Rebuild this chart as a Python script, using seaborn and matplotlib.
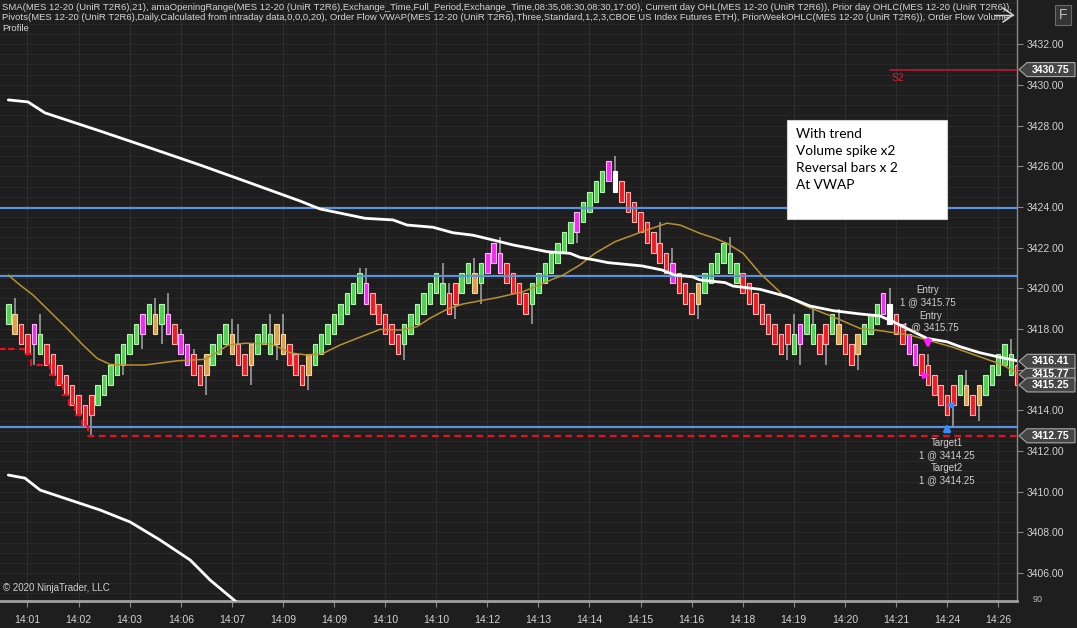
import matplotlib
matplotlib.use("Agg")
import matplotlib.pyplot as plt
import matplotlib.transforms as mtransforms
from matplotlib.patches import Polygon, Rectangle
import numpy as np
import pandas as pd
import seaborn as sns

# UniRenko T2R6 bars (one entry per bar)
opens = [
    3418.25, 3418.75, 3418.25, 3417.75, 3417.25, 3417.75, 3417.25, 3416.75, 3416.25, 3415.75,
    3415.25, 3414.75, 3414.25, 3413.75, 3414.25, 3414.75, 3415.25, 3415.75, 3416.25, 3416.75,
    3417.25, 3417.75, 3418.25, 3418.75, 3418.25, 3418.75, 3418.25, 3417.75, 3417.25, 3416.75,
    3416.25, 3415.75, 3416.25, 3416.75, 3417.25, 3417.75, 3417.25, 3416.75, 3416.25, 3416.75,
    3417.25, 3417.75, 3417.25, 3417.75, 3417.25, 3416.75, 3416.25, 3415.75, 3416.25, 3416.75,
    3417.25, 3417.75, 3418.25, 3418.75, 3419.25, 3419.75, 3420.25, 3419.75, 3419.25, 3418.75,
    3418.25, 3417.75, 3417.25, 3417.75, 3418.25, 3418.75, 3419.25, 3419.75, 3420.25, 3419.75,
    3419.25, 3419.75, 3420.25, 3420.75, 3420.25, 3420.75, 3421.25, 3421.75, 3421.25, 3420.75,
    3420.25, 3419.75, 3419.25, 3419.75, 3420.25, 3420.75, 3421.25, 3421.75, 3422.25, 3422.75,
    3423.25, 3423.75, 3424.25, 3424.75, 3425.25, 3425.75, 3425.25, 3424.75, 3424.25, 3423.75,
    3423.25, 3422.75, 3422.25, 3421.75, 3421.25, 3420.75, 3420.25, 3419.75, 3419.25, 3419.75,
    3420.25, 3420.75, 3421.25, 3421.75, 3421.25, 3420.75, 3420.25, 3419.75, 3419.25, 3418.75,
    3418.25, 3417.75, 3417.25, 3417.75, 3417.25, 3417.75, 3418.25, 3417.75, 3417.25, 3417.75,
    3418.25, 3417.75, 3417.25, 3416.75, 3417.25, 3417.75, 3418.25, 3418.75, 3419.25, 3418.75,
    3418.25, 3417.75, 3417.25, 3416.75, 3416.25, 3415.75, 3415.25, 3414.75, 3414.25, 3414.75,
    3415.25, 3414.75, 3414.25, 3414.75, 3415.25, 3415.75, 3416.25, 3416.75, 3416.25,
]
closes = [
    3419.25, 3417.75, 3417.25, 3416.75, 3418.25, 3416.75, 3416.25, 3415.75, 3415.25, 3414.75,
    3414.25, 3413.75, 3413.25, 3414.75, 3415.25, 3415.75, 3416.25, 3416.75, 3417.25, 3417.75,
    3418.25, 3418.75, 3419.25, 3417.75, 3419.25, 3417.75, 3417.25, 3416.75, 3416.25, 3415.75,
    3415.25, 3416.75, 3417.25, 3417.75, 3418.25, 3416.75, 3416.25, 3415.75, 3417.25, 3417.75,
    3418.25, 3416.75, 3418.25, 3416.75, 3416.25, 3415.75, 3415.25, 3416.75, 3417.25, 3417.75,
    3418.25, 3418.75, 3419.25, 3419.75, 3420.25, 3420.75, 3419.25, 3418.75, 3418.25, 3417.75,
    3417.25, 3416.75, 3418.25, 3418.75, 3419.25, 3419.75, 3420.25, 3420.75, 3419.25, 3418.75,
    3420.25, 3420.75, 3421.25, 3419.75, 3421.25, 3421.75, 3422.25, 3420.75, 3420.25, 3419.75,
    3419.25, 3418.75, 3420.25, 3420.75, 3421.25, 3421.75, 3422.25, 3422.75, 3423.25, 3423.75,
    3424.25, 3424.75, 3425.25, 3425.75, 3426.25, 3424.75, 3424.25, 3423.75, 3423.25, 3422.75,
    3422.25, 3421.75, 3421.25, 3420.75, 3420.25, 3419.75, 3419.25, 3418.75, 3420.25, 3420.75,
    3421.25, 3421.75, 3422.25, 3420.75, 3420.25, 3419.75, 3419.25, 3418.75, 3418.25, 3417.75,
    3417.25, 3416.75, 3418.25, 3416.75, 3418.25, 3418.75, 3417.25, 3416.75, 3418.25, 3418.75,
    3417.25, 3416.75, 3416.25, 3417.75, 3418.25, 3418.75, 3419.25, 3419.75, 3418.25, 3417.75,
    3417.25, 3416.75, 3416.25, 3415.75, 3415.25, 3414.75, 3414.25, 3413.75, 3415.25, 3415.75,
    3414.25, 3413.75, 3415.25, 3415.75, 3416.25, 3416.75, 3417.25, 3415.75, 3415.25,
]
# G green, R red, O orange, M magenta, W white
bar_colors = ("GORRMGRRRR" "RRRRGGGGGG" "GMGOGMRMMR" "ROGGGORROG" "GGOORRROGG"
              "GGGGGGMRRR" "RRGGGGGGGR" "RGGOGMMMRR" "RRGGGGGGGM" "GGGGMWRRRR"
              "RRRRMRRROG" "GGGGGRRRRR" "RRRGMGGRRG" "ORROGGGMWR" "RMMRRRRRRG"
              "OROGGGGGR")
# wicks: bar number and the price the wick reaches
wick_bars = [1, 4, 5, 13, 18, 21, 23, 24, 25, 27, 29, 31, 35, 36, 38, 41, 42, 43, 47, 55,
             56, 62, 68, 69, 70, 73, 74, 77, 82, 89, 95, 102, 104, 108, 113, 122, 123, 124,
             126, 128, 130, 133, 138, 144, 148, 150, 152, 157]
wick_ends = [3419.5, 3416.25, 3418.75, 3412.75, 3415.75, 3417.0, 3419.5, 3417.25, 3419.75,
             3418.0, 3417.0, 3414.75, 3418.5, 3418.25, 3415.25, 3418.75, 3416.5, 3418.75,
             3415.0, 3421.0, 3421.0, 3416.5, 3421.25, 3420.25, 3418.5, 3421.5, 3419.25,
             3422.5, 3418.25, 3422.25, 3426.5, 3423.25, 3422.0, 3418.5, 3422.5, 3416.5,
             3418.75, 3416.25, 3419.0, 3416.25, 3419.0, 3416.0, 3420.0, 3416.75, 3413.25,
             3416.0, 3413.5, 3417.5]

# VWAP upper band (white)
vwap_up_x = [0.0, 3.08, 5.75, 14.36, 22.19, 30.02, 37.85, 45.68, 48.81, 55.86, 60.24, 62.43,
             66.5, 69.63, 72.76, 75.43, 79.03, 81.69, 84.35, 87.95, 89.52, 91.87, 93.91,
             99.23, 102.36, 104.4, 107.06, 108.31, 112.23, 113.48, 117.71, 121.94, 125.54,
             129.14, 133.37, 136.5, 138.54, 141.2, 143.86, 146.99, 149.03, 152.16, 155.29,
             157.96]
vwap_up_y = [3429.26, 3429.16, 3428.62, 3427.73, 3426.9, 3426.06, 3425.18, 3424.29, 3423.9,
             3423.44, 3423.36, 3423.11, 3423.0, 3422.73, 3422.61, 3422.41, 3422.13, 3421.97,
             3421.8, 3421.72, 3421.52, 3421.39, 3421.26, 3421.1, 3420.9, 3420.65, 3420.57,
             3420.41, 3420.28, 3420.11, 3419.95, 3419.59, 3419.13, 3418.9, 3418.74, 3418.64,
             3418.36, 3417.95, 3417.54, 3417.37, 3417.13, 3416.83, 3416.61, 3416.44]
# VWAP lower band (white)
vwap_lo_x = [0.0, 2.6, 5.0, 9.7, 14.4, 19.1, 23.8, 28.5, 31.6, 35.0, 36.3]
vwap_lo_y = [3410.82, 3410.67, 3410.08, 3409.59, 3409.1, 3408.51, 3407.62, 3406.64, 3405.66,
             3404.77, 3404.43]
# SMA(21) (gold)
sma_x = [0.0, 1.83, 3.87, 6.53, 9.19, 11.7, 13.89, 15.93, 18.59, 21.41, 26.57, 30.8, 32.84,
         34.4, 37.07, 41.29, 44.11, 46.77, 49.28, 51.94, 54.6, 58.2, 61.34, 64.0, 66.03, 68.7,
         71.2, 76.53, 80.6, 83.73, 86.86, 89.52, 91.87, 95.0, 99.23, 103.15, 105.18, 108.31,
         110.66, 112.54, 115.05, 117.71, 121.32, 125.07, 129.14, 133.37, 136.5, 141.2, 143.86,
         147.93, 153.25, 155.76, 157.96]
sma_y = [3420.65, 3420.16, 3419.67, 3418.85, 3418.03, 3417.21, 3416.56, 3416.26, 3416.23,
         3416.23, 3416.44, 3416.51, 3416.88, 3417.21, 3417.3, 3417.26, 3416.83, 3416.72,
         3416.8, 3417.21, 3417.54, 3417.98, 3417.95, 3418.11, 3418.53, 3418.97, 3419.23,
         3419.54, 3419.83, 3420.25, 3420.65, 3421.15, 3421.72, 3422.29, 3422.78, 3423.2,
         3423.11, 3422.7, 3422.46, 3422.21, 3421.72, 3420.74, 3419.67, 3419.1, 3418.6,
         3418.03, 3417.92, 3417.7, 3417.46, 3417.1, 3416.51, 3416.23, 3415.82]

opening_range = [3423.93, 3420.6, 3413.17]
prior_day_low = 3417.0
s2_level = 3430.75
price_tags = [3415.77, 3416.41, 3415.25, 3412.75, 3430.75]
time_labels = ["14:01", "14:02", "14:03", "14:06", "14:07", "14:09", "14:09", "14:10", "14:10",
               "14:12", "14:13", "14:14", "14:15", "14:16", "14:18", "14:19", "14:20", "14:21",
               "14:24", "14:26"]

header = ("SMA(MES 12-20 (UniR T2R6),21), amaOpeningRange(MES 12-20 (UniR T2R6),Exchange_Time,"
          "Full_Period,Exchange_Time,08:35,08:30,08:30,17:00), Current day OHL(MES 12-20 (UniR T2R6)), "
          "Prior day OHLC(MES 12-20 (UniR T2R6)),\n"
          "Pivots(MES 12-20 (UniR T2R6),Daily,Calculated from intraday data,0,0,0,20), Order Flow "
          "VWAP(MES 12-20 (UniR T2R6),Three,Standard,1,2,3,CBOE US Index Futures ETH), "
          "PriorWeekOHLC(MES 12-20 (UniR T2R6)), Order Flow Volume\nProfile")
note = "With trend\nVolume spike x2\nReversal bars x 2\nAt VWAP"

face = {"G": "#4fd34f", "R": "#f01b22", "O": "#dba24c", "M": "#f22cf0", "W": "#ffffff"}
edge = {"G": "#b6f2b0", "R": "#f8b2b2", "O": "#f2d6a8", "M": "#fab8fa", "W": "#ffffff"}

df = pd.DataFrame({"open": opens, "close": closes, "kind": list(bar_colors)})
df["bar"] = np.arange(len(df))
df["body_lo"] = df[["open", "close"]].min(axis=1)
df["body_hi"] = df[["open", "close"]].max(axis=1)
df["low"] = df["body_lo"]
df["high"] = df["body_hi"]
for b, w in zip(wick_bars, wick_ends):
    if w > df.loc[b, "body_hi"]:
        df.loc[b, "high"] = w
    else:
        df.loc[b, "low"] = w
# current-day low, updated as new lows print
df["day_low"] = np.minimum.accumulate(np.minimum(df["low"].values, prior_day_low))

BG = "#1e1e1e"
sns.set_theme(style="dark", rc={"axes.facecolor": BG, "figure.facecolor": BG})
plt.rcParams["font.family"] = ["Liberation Sans", "DejaVu Sans"]

W, H = 1077, 628
fig = plt.figure(figsize=(W / 100, H / 100), dpi=100)
ax = fig.add_axes([0, 27 / H, 1017 / W, 601 / H])
ax.set_facecolor(BG)

# grid
for p in np.arange(3404.5, 3434.5, 0.5):
    ax.axhline(p, color="#292929", lw=0.7, zorder=0)
tick_bars = np.arange(3, 159, 8)
for t in tick_bars:
    ax.axvline(t, color="#2c2c2c", lw=0.8, zorder=0)

# candles
ax.vlines(df["bar"], df["low"], df["high"], color="#a8a8a8", lw=1.1, zorder=2)
ax.bar(df["bar"], df["body_hi"] - df["body_lo"], bottom=df["body_lo"], width=0.7,
       color=[face[k] for k in df["kind"]], edgecolor=[edge[k] for k in df["kind"]],
       linewidth=0.8, zorder=3)

# indicator lines
for lvl in opening_range:
    ax.axhline(lvl, color="#5d93dc", lw=1.6, zorder=4)
sns.lineplot(x=df["bar"], y=df["day_low"], ax=ax, color="#e8101c", lw=1.6,
             linestyle=(0, (3, 2)), drawstyle="steps-mid", zorder=4)
ax.plot([-1.5, 0], [prior_day_low, prior_day_low], color="#e8101c", lw=1.6,
        linestyle=(0, (3, 2)), zorder=4)
ax.plot([df["bar"].iloc[-1], 160], [df["day_low"].iloc[-1]] * 2, color="#e8101c", lw=1.6,
        linestyle=(0, (3, 2)), zorder=4)
sns.lineplot(x=sma_x, y=sma_y, ax=ax, color="#b8912e", lw=1.1, sort=False, estimator=None, zorder=5)
sns.lineplot(x=vwap_up_x, y=vwap_up_y, ax=ax, color="white", lw=2.0, sort=False, estimator=None, zorder=5)
sns.lineplot(x=vwap_lo_x, y=vwap_lo_y, ax=ax, color="white", lw=2.0, sort=False, estimator=None, zorder=5)
ax.plot([138.1, 160], [s2_level, s2_level], color="#b01a32", lw=1.3, zorder=4)
ax.text(138.3, s2_level - 0.15, "S2", color="#d01c3a", fontsize=7.5, va="top", ha="left")

# trade markers and labels
ax.annotate("", xy=(144.0, 3416.9), xytext=(144.0, 3417.65),
            arrowprops=dict(arrowstyle="-|>", color="#ff1aff", lw=2.2, mutation_scale=9), zorder=6)
ax.annotate("", xy=(147.0, 3413.5), xytext=(147.0, 3412.85),
            arrowprops=dict(arrowstyle="-|>", color="#2f8fff", lw=2.2, mutation_scale=9), zorder=6)
ax.plot([143.6], [3415.75], marker=">", color="#ff1aff", ms=4, zorder=6)
ax.plot([147.4], [3414.25], marker="<", color="#2f8fff", ms=4, zorder=6)
txt = dict(color="#cfcfcf", fontsize=7, ha="center", va="center", linespacing=1.2, zorder=7)
ax.text(144.0, 3419.61, "Entry\n1 @ 3415.75", **txt)
ax.text(144.4, 3418.36, "Entry\n1 @ 3415.75", **txt)
ax.text(147.0, 3412.09, "Target1\n1 @ 3414.25", **txt)
ax.text(147.0, 3410.86, "Target2\n1 @ 3414.25", **txt)

# axes
ax.set_xlim(-1.30, 157.95)
ax.set_ylim(3404.63, 3434.17)
for s in ["top", "left"]:
    ax.spines[s].set_visible(False)
ax.spines["right"].set_color("#8a8a8a")
ax.spines["right"].set_linewidth(1.0)
ax.spines["bottom"].set_color("#a0a0a0")
ax.spines["bottom"].set_linewidth(2.0)
ax.yaxis.tick_right()
ax.set_yticks(np.arange(3406, 3433, 2))
ax.set_yticklabels([f"{v:.2f}" for v in np.arange(3406, 3433, 2)])
ax.set_xticks(tick_bars)
ax.set_xticklabels(time_labels)
ax.tick_params(axis="y", colors="#8a8a8a", labelcolor="#d2d2d2", length=4, width=0.8,
               pad=3, labelsize=7.5, right=True)
ax.tick_params(axis="x", colors="#8a8a8a", labelcolor="#d2d2d2", length=4, width=0.8,
               pad=6, labelsize=7.5, bottom=True)
ax.set_xlabel("")
ax.set_ylabel("")

# price tags on the right axis
tr = mtransforms.blended_transform_factory(ax.transAxes, ax.transData)
hh = 7 / 20.34
for p in price_tags:
    x0, x1, x2 = 1019 / 1017, 1027 / 1017, 1075 / 1017
    poly = Polygon([(x0, p), (x1, p + hh), (x2, p + hh), (x2, p - hh), (x1, p - hh)],
                   closed=True, transform=tr, facecolor="#454545", edgecolor="#a8a8a8",
                   lw=0.8, clip_on=False, zorder=8)
    ax.add_patch(poly)
    ax.text(1051 / 1017, p, f"{p:.2f}", transform=tr, color="white", fontsize=7.5,
            fontweight="bold", ha="center", va="center", clip_on=False, zorder=9)

# header and other overlay text
fig.text(2 / W, 1 - 3 / H, header, color="#d6d6d6", fontsize=6.8, va="top", ha="left",
         linespacing=1.2)
fig.text(3 / W, 1 - 588 / H, "© 2020 NinjaTrader, LLC", color="#d0d0d0", fontsize=7,
         va="center", ha="left")
fig.patches.append(Rectangle((787 / W, 1 - 219 / H), 160 / W, 99 / H, transform=fig.transFigure,
                             facecolor="white", edgecolor="#d0d0d0", lw=0.8, zorder=10))
fig.text(796 / W, 1 - 128 / H, note, color="black", fontsize=9.8, va="top", ha="left",
         family=["Lato", "DejaVu Sans"], linespacing=1.5, zorder=11)
fig.text(1063 / W, 1 - 15 / H, "F", color="#c0c0c0", fontsize=10, ha="center", va="center",
         bbox=dict(boxstyle="square,pad=0.25", facecolor="#353535", edgecolor="#6a6a6a", lw=0.8))
fig.lines.append(plt.Line2D([1003 / W, 1013 / W, 1003 / W], [1 - 8 / H, 1 - 15 / H, 1 - 22 / H],
                            transform=fig.transFigure, color="#cfcfcf", lw=1.2))
fig.lines.append(plt.Line2D([994 / W, 1013 / W], [1 - 15 / H, 1 - 15 / H],
                            transform=fig.transFigure, color="#cfcfcf", lw=1.0))
fig.text(1038 / W, 1 - 599 / H, "90", color="#bdbdbd", fontsize=6.5, ha="center", va="center")

fig.savefig("out.png", dpi=100, facecolor=BG)
